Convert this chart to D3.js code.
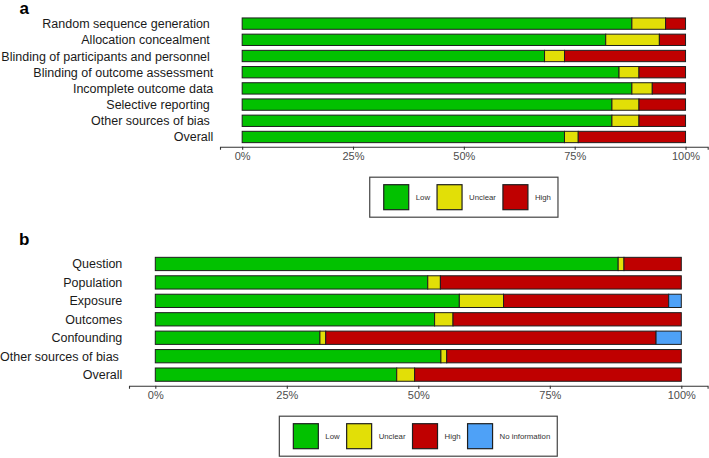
<!DOCTYPE html>
<html><head><meta charset="utf-8">
<script src="https://cdn.jsdelivr.net/npm/d3@7"></script>
<style>
body{margin:0;background:#fff}
text{font-family:"Liberation Sans",Arial,Helvetica,sans-serif}
</style>
</head><body>
<svg id="chart" width="709" height="458"></svg>
<script>
// ---------- Panel a data ----------
const categoriesA = ["Random sequence generation ", "Allocation concealment ", "Blinding of participants and personnel ",
  "Blinding of outcome assessment", "Incomplete outcome data", "Selective reporting ", "Other sources of bias ", "Overall"];
const lowA     = [87.9, 82.0, 68.2, 85.0, 87.9, 83.4, 83.4, 72.7];
const unclearA = [7.6, 12.1, 4.5, 4.5, 4.6, 6.1, 6.1, 3.1];
const highA    = [4.5, 5.9, 27.3, 10.5, 7.5, 10.5, 10.5, 24.2];

// ---------- Panel b data ----------
const categoriesB = ["Question", "Population", "Exposure", "Outcomes", "Confounding", "Other sources of bias ", "Overall"];
const lowB     = [88.0, 51.8, 57.8, 53.1, 31.3, 54.3, 45.9];
const unclearB = [1.1, 2.4, 8.4, 3.5, 1.1, 1.1, 3.4];
const highB    = [10.9, 45.8, 31.4, 43.4, 62.8, 44.6, 50.7];
const noInfoB  = [0, 0, 2.4, 0, 4.8, 0, 0];

const tickValues = [0, 0.25, 0.5, 0.75, 1];
const legendA = ["Low", "Unclear", "High"];
const legendB = ["Low", "Unclear", "High", "No information"];
const colors = {"Low": "#02C100", "Unclear": "#E2DF07", "High": "#BF0000", "No information": "#4EA1F7"};

const svg = d3.select("#chart");

function panel(cfg) {
  const g = svg.append("g");
  const keys = cfg.keys;
  const rows = cfg.categories.map((c, i) => {
    const r = {cat: c};
    keys.forEach((k, j) => r[k] = cfg.series[j][i] / 100);
    return r;
  });
  const x = d3.scaleLinear().domain([-0.05, 1.05]).range([cfg.x0, cfg.x1]);
  const y = d3.scalePoint().domain(cfg.categories).range([cfg.top, cfg.bottom]).padding(0.6);
  const bh = y.step() * cfg.barRatio;
  const stacked = d3.stack().keys(keys)(rows);

  // bars
  g.selectAll("g.layer").data(stacked).join("g")
    .attr("fill", d => colors[d.key])
    .selectAll("rect").data(d => d.filter(s => s[1] - s[0] > 0)).join("rect")
    .attr("x", d => x(d[0]))
    .attr("width", d => x(d[1]) - x(d[0]))
    .attr("y", d => y(d.data.cat) - bh / 2)
    .attr("height", bh)
    .attr("stroke", "#1e1e1e")
    .attr("stroke-width", 1);

  // x axis
  const ax = g.append("g").attr("transform", `translate(0,${cfg.bottom})`)
    .call(d3.axisBottom(x).tickValues(tickValues).tickFormat(d3.format(".0%")).tickSizeOuter(0).tickSize(3).tickPadding(2.5));
  ax.select(".domain").attr("stroke", "#333").attr("stroke-width", 1.1);
  ax.selectAll(".tick line").attr("stroke", "#333").attr("stroke-width", 1.1);
  ax.selectAll(".tick text").attr("fill", "#4d4d4d").style("font-size", "11px")
    .style("font-family", '"Liberation Sans",Arial,sans-serif');

  // y axis labels
  const ay = g.append("g").attr("transform", `translate(${cfg.x0},0)`)
    .call(d3.axisLeft(y).tickSize(0).tickPadding(6.7));
  ay.select(".domain").remove();
  ay.selectAll(".tick text").attr("fill", "#1a1a1a").style("font-size", "12.5px")
    .style("white-space", "pre").attr("xml:space", "preserve")
    .style("font-family", '"Liberation Sans",Arial,sans-serif');

  // panel tag
  svg.append("text").attr("x", cfg.tagX).attr("y", cfg.tagY).text(cfg.tag)
    .style("font-size", "17px").style("font-weight", "bold").attr("fill", "#000");

  // legend
  const lg = g.append("g");
  const pad = 14, sw = 25, gap = 7, rpad = 7, lh = 40;
  let cx = pad;
  const items = lg.selectAll("g.item").data(cfg.legend).join("g");
  items.each(function(k) {
    const it = d3.select(this);
    it.append("rect").attr("x", cx).attr("y", (lh - sw) / 2).attr("width", sw).attr("height", sw)
      .attr("fill", colors[k]).attr("stroke", "#1e1e1e").attr("stroke-width", 1.2);
    cx += sw + gap;
    const t = it.append("text").attr("x", cx).attr("y", lh / 2).attr("dy", "0.35em").text(k)
      .style("font-size", "7.8px").attr("fill", "#333");
    cx += t.node().getComputedTextLength() + gap;
  });
  const totalW = cx - gap + rpad;
  lg.insert("rect", ":first-child").attr("x", 0).attr("y", 0).attr("width", totalW).attr("height", lh)
    .attr("fill", "#fff").attr("stroke", "#444").attr("stroke-width", 1.2);
  const centre = (cfg.x0 + cfg.x1) / 2;
  lg.attr("transform", `translate(${centre - totalW / 2},${cfg.bottom + 30.5})`);
}

panel({
  categories: categoriesA, keys: ["Low", "Unclear", "High"], series: [lowA, unclearA, highA],
  x0: 220, x1: 707.7, top: 13.9, bottom: 146.7, barRatio: 0.7,
  legend: legendA, tag: "a", tagX: 19.5, tagY: 13.5
});
panel({
  categories: categoriesB, keys: ["Low", "Unclear", "High", "No information"], series: [lowB, unclearB, highB, noInfoB],
  x0: 129, x1: 707.6, top: 252.9, bottom: 385.7, barRatio: 0.72,
  legend: legendB, tag: "b", tagX: 19, tagY: 245
});
</script>
</body></html>
